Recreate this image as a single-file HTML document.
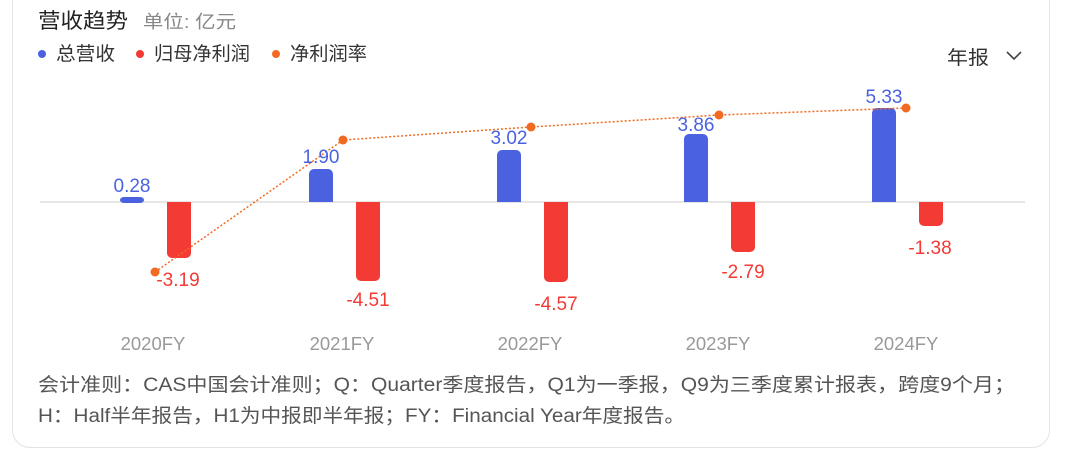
<!DOCTYPE html>
<html><head><meta charset="utf-8"><style>
html,body{margin:0;padding:0;background:#fff;width:1080px;height:449px;overflow:hidden}
.card{position:absolute;left:12px;top:-20px;width:1036px;height:466px;border:1px solid #e4e4e4;border-radius:18px;background:#fff}
svg{position:absolute;left:0;top:0}
text{font-family:"Liberation Sans","Noto Sans CJK SC",sans-serif}
</style></head><body>
<div class="card"></div>
<svg width="1080" height="449" viewBox="0 0 1080 449">
<text x="38" y="28" font-size="21" fill="#222" textLength="90" lengthAdjust="spacingAndGlyphs">营收趋势</text>
<text x="143" y="28" font-size="18" fill="#888" textLength="93" lengthAdjust="spacingAndGlyphs">单位: 亿元</text>
<circle cx="42" cy="54" r="4" fill="#4a62e0"/><text x="56" y="60" font-size="19" fill="#333" textLength="59" lengthAdjust="spacingAndGlyphs">总营收</text>
<circle cx="140" cy="54" r="4" fill="#f23a35"/><text x="154" y="60" font-size="19" fill="#333" textLength="96" lengthAdjust="spacingAndGlyphs">归母净利润</text>
<circle cx="276" cy="54" r="4" fill="#f26a21"/><text x="290" y="60" font-size="19" fill="#333" textLength="77" lengthAdjust="spacingAndGlyphs">净利润率</text>
<text x="947" y="64" font-size="19" fill="#333" textLength="42" lengthAdjust="spacingAndGlyphs">年报</text>
<path d="M1007 52 L1014 59 L1021 52" fill="none" stroke="#444" stroke-width="1.6"/>
<line x1="40" y1="202" x2="1025" y2="202" stroke="#ddd" stroke-width="1.5"/>
<g fill="#4a62e0">
<rect x="120" y="197" width="24" height="6" rx="4"/>
<path d="M309 202V174a5 5 0 0 1 5-5h14a5 5 0 0 1 5 5V202z"/>
<path d="M497 202V155a5 5 0 0 1 5-5h14a5 5 0 0 1 5 5V202z"/>
<path d="M684 202V139a5 5 0 0 1 5-5h14a5 5 0 0 1 5 5V202z"/>
<path d="M872 202V113a5 5 0 0 1 5-5h14a5 5 0 0 1 5 5V202z"/>
</g>
<g fill="#f43a34">
<path d="M167 202V253a5 5 0 0 0 5 5h14a5 5 0 0 0 5-5V202z"/>
<path d="M356 202V276a5 5 0 0 0 5 5h14a5 5 0 0 0 5-5V202z"/>
<path d="M544 202V277a5 5 0 0 0 5 5h14a5 5 0 0 0 5-5V202z"/>
<path d="M731 202V247a5 5 0 0 0 5 5h14a5 5 0 0 0 5-5V202z"/>
<path d="M919 202V221a5 5 0 0 0 5 5h14a5 5 0 0 0 5-5V202z"/>
</g>
<polyline points="155,272 343,140 531,127 719,115 906,108" fill="none" stroke="#f26a21" stroke-width="1.5" stroke-dasharray="2,2"/>
<g fill="#f26a21"><circle cx="155" cy="272" r="4.5"/><circle cx="343" cy="140" r="4.5"/><circle cx="531" cy="127" r="4.5"/><circle cx="719" cy="115" r="4.5"/><circle cx="906" cy="108" r="4.5"/></g>
<g font-size="19" fill="#4a62e0" text-anchor="middle">
<text x="132" y="192">0.28</text><text x="321" y="163">1.90</text><text x="509" y="144">3.02</text><text x="696" y="131">3.86</text><text x="884" y="103">5.33</text>
</g>
<g font-size="19" fill="#f23a35" text-anchor="middle">
<text x="178" y="286">-3.19</text><text x="368" y="306">-4.51</text><text x="556" y="310">-4.57</text><text x="743" y="278">-2.79</text><text x="930" y="254">-1.38</text>
</g>
<g font-size="18.5" fill="#999" text-anchor="middle">
<text x="153" y="350">2020FY</text><text x="342" y="350">2021FY</text><text x="530" y="350">2022FY</text><text x="718" y="350">2023FY</text><text x="906" y="350">2024FY</text>
</g>
<text x="38" y="391" font-size="19" fill="#555" textLength="977" lengthAdjust="spacingAndGlyphs">会计准则：CAS中国会计准则；Q：Quarter季度报告，Q1为一季报，Q9为三季度累计报表，跨度9个月；</text>
<text x="38" y="422" font-size="19" fill="#555" textLength="647" lengthAdjust="spacingAndGlyphs">H：Half半年报告，H1为中报即半年报；FY：Financial Year年度报告。</text>
</svg>
</body></html>
